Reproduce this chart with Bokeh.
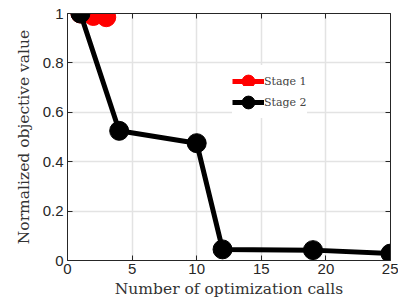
from bokeh.plotting import figure
from bokeh.models import (LinearAxis, Range1d, FixedTicker, CustomJSTickFormatter, Legend, LegendItem)
from bokeh.embed import file_html
from bokeh.resources import INLINE

stage1_x = [1, 2, 3]
stage1_y = [1.0, 0.99, 0.985]
stage2_x = [1, 4, 10, 12, 19, 25]
stage2_y = [1.0, 0.525, 0.475, 0.045, 0.042, 0.028]
x_ticks = [0, 5, 10, 15, 20, 25]
y_ticks = [0, 0.2, 0.4, 0.6, 0.8, 1.0]

p = figure(width=398, height=300, output_backend="svg", toolbar_location=None,
           x_range=Range1d(0, 25), y_range=Range1d(0, 1),
           min_border_left=67, min_border_right=8, min_border_top=13, min_border_bottom=40)
p.outline_line_color = None
p.background_fill_color = "white"
p.border_fill_color = "white"

fmt = CustomJSTickFormatter(code="return (Math.round(tick*10)/10).toString();")
axis_color = "#262626"
for ax in [p.xaxis[0], p.yaxis[0]]:
    ax.major_tick_in = 5
    ax.major_tick_out = 0
    ax.minor_tick_line_color = None
    ax.axis_line_color = axis_color
    ax.major_tick_line_color = axis_color
    ax.major_label_text_color = axis_color
    ax.major_label_text_font = "Liberation Sans"
    ax.major_label_text_font_size = "15px"
    ax.axis_label_text_font = "DejaVu Serif"
    ax.axis_label_text_font_size = "15.5px"
    ax.axis_label_text_font_style = "normal"
    ax.axis_label_text_color = "#333333"
    ax.formatter = fmt
p.xaxis[0].ticker = FixedTicker(ticks=x_ticks)
p.yaxis[0].ticker = FixedTicker(ticks=y_ticks)
p.xaxis[0].axis_label = "Number of optimization calls"
p.yaxis[0].axis_label = "Normalized objective value"
p.xaxis[0].major_label_standoff = 3
p.yaxis[0].major_label_standoff = 4
p.xaxis[0].axis_label_standoff = 3
p.yaxis[0].axis_label_standoff = 7

top = LinearAxis(ticker=FixedTicker(ticks=x_ticks), major_label_text_font_size="0px",
                 major_tick_in=5, major_tick_out=0, minor_tick_line_color=None,
                 axis_line_color=axis_color, major_tick_line_color=axis_color)
right = LinearAxis(ticker=FixedTicker(ticks=y_ticks), major_label_text_font_size="0px",
                   major_tick_in=5, major_tick_out=0, minor_tick_line_color=None,
                   axis_line_color=axis_color, major_tick_line_color=axis_color)
p.add_layout(top, "above")
p.add_layout(right, "right")

p.xgrid.ticker = FixedTicker(ticks=x_ticks)
p.ygrid.ticker = FixedTicker(ticks=y_ticks)
p.grid.grid_line_color = "#e3e3e3"
p.grid.grid_line_width = 1.5

l1 = p.line(stage1_x, stage1_y, line_color="red", line_width=5)
c1 = p.scatter(stage1_x, stage1_y, size=19, fill_color="red", line_color="red")
l2 = p.line(stage2_x, stage2_y, line_color="black", line_width=5)
c2 = p.scatter(stage2_x, stage2_y, size=19, fill_color="black", line_color="black")

common = dict(background_fill_color="white", background_fill_alpha=1.0,
              border_line_color=None, label_text_font="DejaVu Serif", label_text_font_size="11px",
              glyph_width=32, glyph_height=32, label_standoff=0, spacing=0, padding=0,
              margin=0, label_height=32)
legend1 = Legend(items=[LegendItem(label="Stage 1", renderers=[l1, c1])],
                 location=(165, 163), **common)
legend2 = Legend(items=[LegendItem(label="Stage 2", renderers=[l2, c2])],
                 location=(165, 142), **common)
p.add_layout(legend1, "center")
p.add_layout(legend2, "center")

open("out.html", "w").write(file_html(p, INLINE))
